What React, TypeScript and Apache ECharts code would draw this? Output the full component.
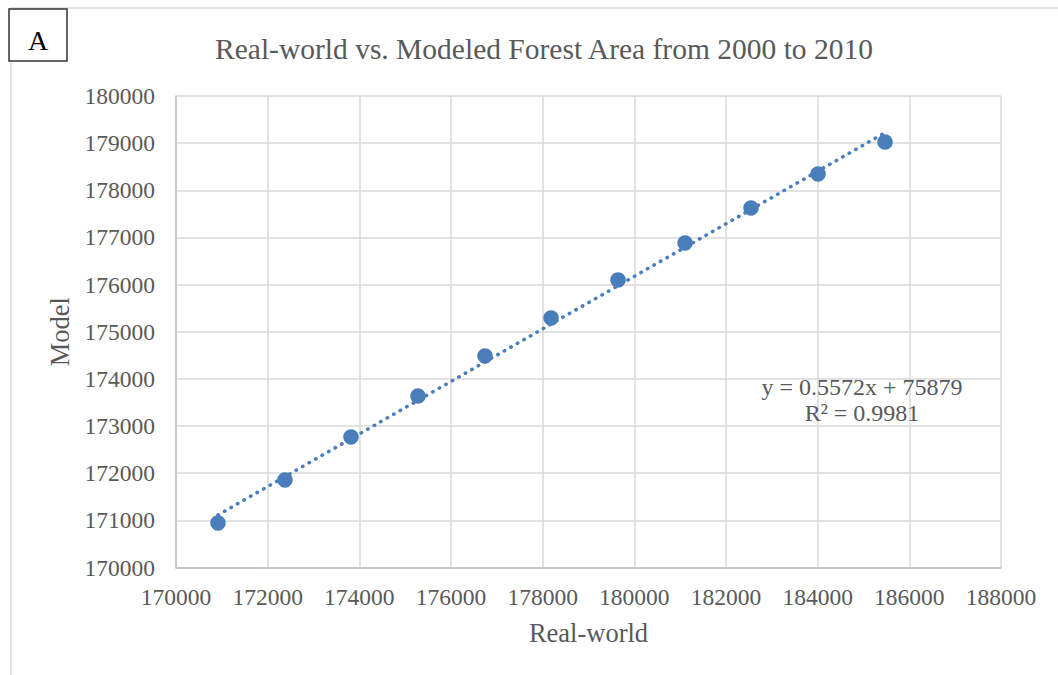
import React, { useEffect, useRef } from "react";
import * as echarts from "echarts";

// Forest area, 2000–2010: observed (real-world) vs. modeled values
const realWorld = [170916, 172378, 173818, 175280, 176742, 178183, 179644, 181106, 182546, 184008, 185470];
const modeled = [170944, 171856, 172768, 173637, 174486, 175292, 176098, 176883, 177625, 178346, 179024];

// Linear trendline as reported in the equation label
const slope = 0.5572;
const intercept = 75879;
const rSquared = 0.9981;

const xTicks = { min: 170000, max: 188000, interval: 2000 };
const yTicks = { min: 170000, max: 180000, interval: 1000 };

const SERIF = '"Liberation Serif", "Times New Roman", serif';
const GRAY_TEXT = "#595959";

export default function App() {
  const ref = useRef<HTMLDivElement>(null);

  useEffect(() => {
    if (!ref.current) return;
    const chart = echarts.init(ref.current, null, { renderer: "svg" });

    const xStart = realWorld[0];
    const xEnd = realWorld[realWorld.length - 1];
    const trend = [
      [xStart, slope * xStart + intercept],
      [xEnd, slope * xEnd + intercept],
    ];

    const plainNumber = (v: number) => String(v);

    chart.setOption({
      animation: false,
      backgroundColor: "#ffffff",
      title: {
        text: "Real-world vs. Modeled Forest Area from 2000 to 2010",
        left: 539,
        top: 29,
        textAlign: "center",
        textStyle: { fontFamily: SERIF, fontSize: 29.5, fontWeight: "normal", color: GRAY_TEXT },
      },
      grid: { left: 176, top: 96, right: 57, bottom: 107.5 },
      xAxis: {
        type: "value",
        min: xTicks.min,
        max: xTicks.max,
        interval: xTicks.interval,
        name: "Real-world",
        nameLocation: "middle",
        nameGap: 52,
        nameTextStyle: { fontFamily: SERIF, fontSize: 26.5, color: GRAY_TEXT },
        axisLine: { show: true, lineStyle: { color: "#bfbfbf", width: 1.5 } },
        axisTick: { show: false },
        axisLabel: { fontFamily: SERIF, fontSize: 23.5, color: GRAY_TEXT, margin: 17, formatter: plainNumber },
        splitLine: { show: true, lineStyle: { color: "#d9d9d9", width: 1.5 } },
      },
      yAxis: {
        type: "value",
        min: yTicks.min,
        max: yTicks.max,
        interval: yTicks.interval,
        name: "Model",
        nameLocation: "middle",
        nameGap: 101,
        nameRotate: 90,
        nameTextStyle: { fontFamily: SERIF, fontSize: 26.5, color: GRAY_TEXT },
        axisLine: { show: true, lineStyle: { color: "#bfbfbf", width: 1.5 } },
        axisTick: { show: false },
        axisLabel: { fontFamily: SERIF, fontSize: 23.5, color: GRAY_TEXT, margin: 21, formatter: plainNumber },
        splitLine: { show: true, lineStyle: { color: "#d9d9d9", width: 1.5 } },
      },
      series: [
        {
          type: "line",
          data: trend,
          symbol: "none",
          z: 3,
          lineStyle: { color: "#4a7ebb", width: 3.5, type: [0.5, 7], cap: "round" },
          silent: true,
        },
        {
          type: "scatter",
          data: realWorld.map((x, i) => [x, modeled[i]]),
          symbol: "circle",
          symbolSize: 15.5,
          z: 4,
          itemStyle: { color: "#4a7ebb", opacity: 1 },
        },
      ],
      graphic: [
        {
          type: "line",
          shape: { x1: 11, y1: 8, x2: 11, y2: 675 },
          style: { stroke: "#d9d9d9", lineWidth: 1.5 },
          z: 1,
        },
        {
          type: "line",
          shape: { x1: 11, y1: 8, x2: 1058, y2: 8 },
          style: { stroke: "#d9d9d9", lineWidth: 1.5 },
          z: 1,
        },
        {
          type: "rect",
          shape: { x: 9, y: 9, width: 58, height: 52 },
          style: { fill: "#ffffff", stroke: "#333333", lineWidth: 1.5 },
          z: 10,
        },
        {
          type: "text",
          x: 38,
          y: 40,
          style: {
            text: "A",
            font: `28px ${SERIF}`,
            fill: "#000000",
            align: "center",
            verticalAlign: "middle",
          },
          z: 11,
        },
        {
          type: "text",
          x: 862,
          y: 387,
          style: {
            text: `y = ${slope}x + ${intercept}`,
            font: `24px ${SERIF}`,
            fill: GRAY_TEXT,
            align: "center",
            verticalAlign: "middle",
          },
          z: 11,
        },
        {
          type: "text",
          x: 862,
          y: 413,
          style: {
            text: `R² = ${rSquared}`,
            font: `24px ${SERIF}`,
            fill: GRAY_TEXT,
            align: "center",
            verticalAlign: "middle",
          },
          z: 11,
        },
      ],
    });

    return () => chart.dispose();
  }, []);

  return (
    <div
      ref={ref}
      style={{ position: "absolute", left: 0, top: 0, width: 1058, height: 675 }}
    />
  );
}
